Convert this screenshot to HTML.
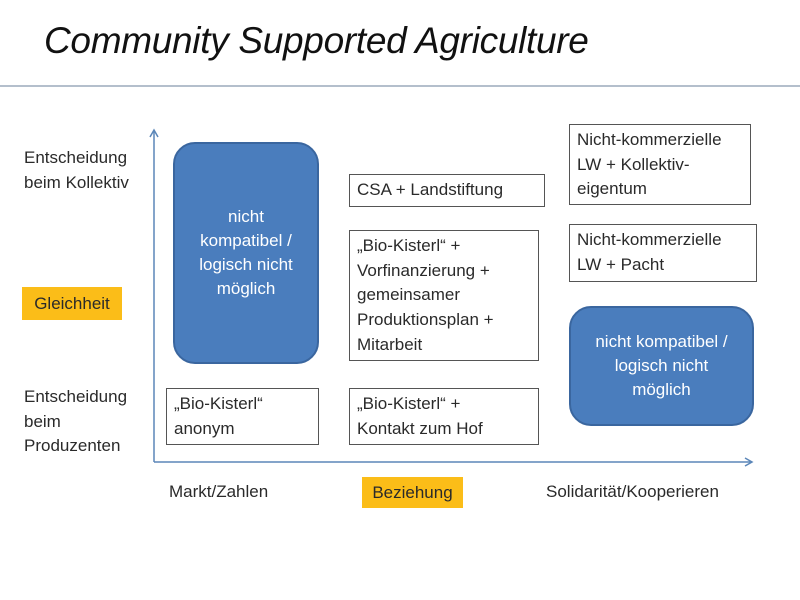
<!DOCTYPE html>
<html><head><meta charset="utf-8"><style>
body{margin:0;width:800px;height:600px;background:#fff;position:relative;overflow:hidden;font-family:"Liberation Sans",sans-serif;color:#2a2a2a}
.a{position:absolute;box-sizing:border-box}
.b{border:1.5px solid #555;background:#fff;font-size:17px;line-height:24.7px;padding:3px 7px 0;white-space:nowrap}
.blue{background:#4a7dbd;border:2px solid #3a669f;border-radius:22px;color:#fff;font-size:17px;line-height:24px;text-align:center;display:flex;align-items:center;justify-content:center}
.t{font-size:17px;line-height:24.5px;white-space:nowrap}
.o{background:#fbbd18;font-size:17px;display:flex;align-items:center;justify-content:center}
</style></head><body>
<div class="a" style="left:44px;top:20px;font-size:37px;font-style:italic;color:#111;letter-spacing:-0.3px">Community Supported Agriculture</div>
<div class="a" style="left:0;top:85px;width:800px;height:2px;background:#b4bfcc"></div>
<svg class="a" style="left:0;top:0" width="800" height="600">
<g stroke="#5b86b8" stroke-width="1.5" fill="none">
<line x1="154" y1="131" x2="154" y2="462"/><polyline points="150,137 154,130 158,137"/>
<line x1="154" y1="462" x2="752" y2="462"/><polyline points="745,458 752,462 745,466"/>
</g></svg>
<div class="a t" style="left:24px;top:146px">Entscheidung<br>beim Kollektiv</div>
<div class="a o" style="left:22px;top:287px;width:100px;height:33px">Gleichheit</div>
<div class="a t" style="left:24px;top:385px">Entscheidung<br>beim<br>Produzenten</div>
<div class="a blue" style="left:173px;top:142px;width:146px;height:222px">nicht<br>kompatibel /<br>logisch nicht<br>möglich</div>
<div class="a b" style="left:349px;top:174px;width:196px;height:33px;line-height:28px;padding-top:1px">CSA + Landstiftung</div>
<div class="a b" style="left:349px;top:230px;width:190px;height:131px">„Bio-Kisterl“ +<br>Vorfinanzierung +<br>gemeinsamer<br>Produktionsplan +<br>Mitarbeit</div>
<div class="a b" style="left:166px;top:388px;width:153px;height:57px">„Bio-Kisterl“<br>anonym</div>
<div class="a b" style="left:349px;top:388px;width:190px;height:57px">„Bio-Kisterl“ +<br>Kontakt zum Hof</div>
<div class="a b" style="left:569px;top:124px;width:182px;height:81px">Nicht-kommerzielle<br>LW + Kollektiv-<br>eigentum</div>
<div class="a b" style="left:569px;top:224px;width:188px;height:58px">Nicht-kommerzielle<br>LW + Pacht</div>
<div class="a blue" style="left:569px;top:306px;width:185px;height:120px">nicht kompatibel /<br>logisch nicht<br>möglich</div>
<div class="a t" style="left:169px;top:480px">Markt/Zahlen</div>
<div class="a o" style="left:362px;top:477px;width:101px;height:31px">Beziehung</div>
<div class="a t" style="left:546px;top:480px">Solidarität/Kooperieren</div>
</body></html>
